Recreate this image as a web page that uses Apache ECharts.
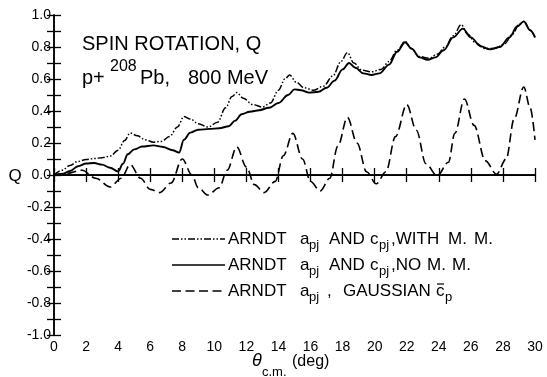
<!DOCTYPE html>
<html><head><meta charset="utf-8">
<script src="https://cdn.jsdelivr.net/npm/echarts@6/dist/echarts.min.js"></script>
<style>html,body{margin:0;padding:0;background:#fff}#c{width:547px;height:377px}</style>
</head><body><div id="c"></div>
<script>
// ARNDT a_pj AND c_pj, WITH M. M. (dash-dot-dot)
const thetaWithMM = [0,0.5,1.0,1.5,2.0,2.5,3.0,3.5,4.0,4.4,4.75,5.2,5.7,6.2,6.7,7.2,7.7,8.1,8.5,9.0,9.6,10.2,10.7,11.1,11.4,11.8,12.4,13.0,13.5,14.0,14.4,14.7,15.1,15.6,16.2,16.8,17.4,17.9,18.3,18.7,19.2,19.8,20.4,20.9,21.4,21.9,22.3,22.8,23.4,23.9,24.4,24.9,25.4,25.8,26.3,26.9,27.5,28.1,28.6,29.0,29.3,29.7,30];
const qWithMM     = [0,0.03,0.06,0.085,0.097,0.103,0.108,0.118,0.155,0.215,0.262,0.245,0.22,0.205,0.21,0.24,0.30,0.365,0.35,0.32,0.30,0.33,0.42,0.49,0.515,0.48,0.44,0.425,0.45,0.53,0.60,0.625,0.58,0.545,0.53,0.555,0.62,0.71,0.765,0.70,0.655,0.645,0.66,0.71,0.78,0.835,0.79,0.74,0.73,0.755,0.80,0.87,0.94,0.88,0.825,0.79,0.79,0.82,0.88,0.94,0.96,0.905,0.86];
// ARNDT a_pj AND c_pj, NO M. M. (solid)
const thetaNoMM = [0,0.5,1.0,1.5,2.0,2.5,3.0,3.5,4.0,4.3,4.6,5.0,5.5,6.2,6.8,7.4,7.8,8.1,8.5,9.0,9.7,10.3,10.9,11.3,11.7,12.2,12.8,13.4,14.0,14.6,15.0,15.4,15.9,16.5,17.0,17.5,18.0,18.4,18.8,19.3,19.8,20.3,20.9,21.4,21.9,22.3,22.8,23.3,23.8,24.3,24.9,25.5,26.0,26.6,27.2,27.8,28.4,28.9,29.3,29.7,30];
const qNoMM     = [0,0.005,0.025,0.055,0.072,0.075,0.065,0.045,0.022,0.07,0.13,0.16,0.178,0.185,0.175,0.155,0.14,0.22,0.265,0.283,0.288,0.292,0.305,0.34,0.38,0.395,0.405,0.42,0.45,0.50,0.535,0.53,0.515,0.52,0.545,0.59,0.66,0.70,0.67,0.635,0.625,0.635,0.69,0.77,0.83,0.79,0.735,0.72,0.735,0.78,0.86,0.915,0.86,0.805,0.785,0.80,0.86,0.93,0.96,0.905,0.86];
// ARNDT a_pj, GAUSSIAN c_p (dashed)
const thetaGauss = [0,0.8,1.75,2.6,3.5,4.2,4.75,5.4,6.0,6.6,7.3,8.0,8.6,9.0,9.6,10.3,10.8,11.4,12.0,12.5,13.1,13.8,14.3,14.9,15.5,16.0,16.6,17.2,17.7,18.3,18.9,19.5,20.1,20.7,21.3,22.0,22.6,23.2,23.9,24.6,25.0,25.6,26.2,26.9,27.6,28.2,28.7,29.3,29.7,30];
const qGauss     = [0,0.01,0.03,-0.02,-0.075,-0.02,0.065,-0.02,-0.09,-0.11,-0.05,0.10,0.0,-0.08,-0.125,-0.08,0.03,0.175,0.05,-0.06,-0.11,-0.04,0.12,0.26,0.10,-0.04,-0.10,-0.02,0.18,0.36,0.20,0.02,-0.055,0.02,0.24,0.44,0.28,0.07,-0.005,0.08,0.26,0.475,0.31,0.09,0.005,0.10,0.35,0.55,0.42,0.22];

const xTickValues = [0,2,4,6,8,10,12,14,16,18,20,22,24,26,28,30];
const yLabelValues = [-1.0,-0.8,-0.6,-0.4,-0.2,0.0,0.2,0.4,0.6,0.8,1.0];

const FONT = '"Liberation Sans", Arial, sans-serif';
const zip = (a, b) => a.map((v, i) => [v, b[i]]);

const chart = echarts.init(document.getElementById('c'), null, {renderer: 'canvas'});

const axisLine = {show: true, lineStyle: {color: '#000', width: 1.5}};
const baseX = {
  type: 'value', min: 0, max: 30, interval: 2,
  axisLine, splitLine: {show: false},
  axisTick: {show: true, inside: true, length: 7, lineStyle: {color: '#000', width: 1.3}}
};
const baseY = {
  type: 'value', min: -1, max: 1, interval: 0.1,
  axisLine, splitLine: {show: false},
  axisTick: {show: true, inside: true, length: 7, lineStyle: {color: '#000', width: 1.3}}
};

function txt(x, y, text, size, opts) {
  opts = opts || {};
  return {
    type: 'text', x: x, y: y, z: 100,
    style: {
      text: text, fill: '#000',
      font: (opts.italic ? 'italic ' : '') + size + 'px ' + FONT,
      align: opts.align || 'left', textAlign: opts.align || 'left',
      verticalAlign: opts.va || 'middle', textVerticalAlign: opts.va || 'middle'
    }
  };
}
function legendLine(y, dash, w) {
  return {
    type: 'line', z: 100,
    shape: {x1: 172, y1: y, x2: 225, y2: y},
    style: {stroke: '#000', lineWidth: w, lineDash: dash}
  };
}
// pieces: [x, text, isSubscript]
function legendRow(y, pieces) {
  return pieces.map(p => p[2] ? txt(p[0], y + 6, p[1], 13) : txt(p[0], y, p[1], 17));
}

const dashDot = [7, 2, 1.5, 2, 1.5, 2];
const dashed = [9, 4.5];

const row1 = 239, row2 = 265, row3 = 291;

chart.setOption({
  animation: false,
  backgroundColor: '#fff',
  grid: {left: 54, right: 12, top: 15, bottom: 42, containLabel: false},
  xAxis: [
    Object.assign({}, baseX, {
      position: 'bottom',
      axisLabel: {show: true, margin: 5, color: '#000', fontSize: 14, fontFamily: FONT,
        formatter: v => xTickValues.includes(Math.round(v)) ? String(Math.round(v)) : ''}
    }),
    Object.assign({}, baseX, {position: 'top', axisLabel: {show: false}})
  ],
  yAxis: [
    Object.assign({}, baseY, {
      position: 'left',
      axisLabel: {show: true, margin: 3, color: '#000', fontSize: 14, fontFamily: FONT,
        formatter: v => {
          const k = Math.round(v * 10);
          if (k % 2 !== 0) return '';
          const val = yLabelValues.find(t => Math.round(t * 10) === k);
          return val === undefined ? '' : val.toFixed(1);
        }}
    }),
    Object.assign({}, baseY, {position: 'right', axisLabel: {show: false}})
  ],
  series: [
    {
      name: 'WITH M. M.', type: 'line', data: zip(thetaWithMM, qWithMM),
      smooth: 0.35, smoothMonotone: 'x', showSymbol: false, symbol: 'none',
      lineStyle: {color: '#000', width: 1.5, type: dashDot},
      markLine: {
        silent: true, symbol: 'none', label: {show: false},
        lineStyle: {color: '#000', width: 1.2, type: 'solid'},
        data: [{yAxis: 0}]
      }
    },
    {
      name: 'NO M. M.', type: 'line', data: zip(thetaNoMM, qNoMM),
      smooth: 0.35, smoothMonotone: 'x', showSymbol: false, symbol: 'none',
      lineStyle: {color: '#000', width: 1.9, type: 'solid'}
    },
    {
      name: 'GAUSSIAN', type: 'line', data: zip(thetaGauss, qGauss),
      smooth: 0.35, smoothMonotone: 'x', showSymbol: false, symbol: 'none',
      lineStyle: {color: '#000', width: 1.6, type: dashed}
    }
  ],
  graphic: [
    txt(82, 44, 'SPIN ROTATION, Q', 20),
    txt(82, 78, 'p+', 20),
    txt(110, 67, '208', 16),
    txt(140, 78, 'Pb,', 20),
    txt(188, 78, '800 MeV', 20),
    txt(15, 176, 'Q', 17, {align: 'center'}),
    txt(252, 361, 'θ', 18, {italic: true}),
    txt(262, 372, 'c.m.', 13),
    txt(292, 362, '(deg)', 16),
    legendLine(row1, dashDot, 1.3),
    legendLine(row2, [], 1.7),
    legendLine(row3, dashed, 1.6),
    ...legendRow(row1, [[228, 'ARNDT'], [300, 'a'], [309, 'pj', 1], [329, 'AND'], [370, 'c'], [379, 'pj', 1], [391, ',WITH'], [448, 'M.'], [474, 'M.']]),
    ...legendRow(row2, [[228, 'ARNDT'], [300, 'a'], [309, 'pj', 1], [329, 'AND'], [370, 'c'], [379, 'pj', 1], [391, ',NO'], [427, 'M.'], [452, 'M.']]),
    ...legendRow(row3, [[228, 'ARNDT'], [300, 'a'], [309, 'pj', 1], [327, ','], [343, 'GAUSSIAN'], [436, 'c'], [445, 'p', 1]]),
    {type: 'line', z: 100, shape: {x1: 437, y1: row3 - 7, x2: 444, y2: row3 - 7}, style: {stroke: '#000', lineWidth: 1.2}}
  ]
});
</script>
</body></html>
